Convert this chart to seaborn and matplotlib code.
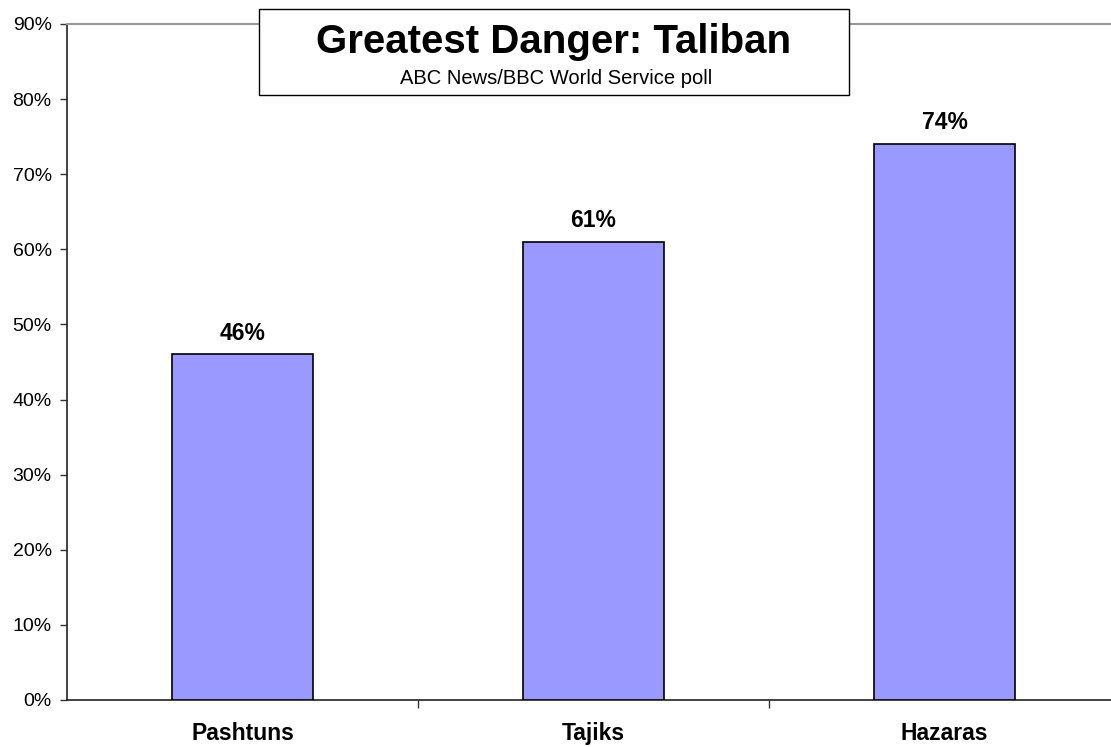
import matplotlib.pyplot as plt
import seaborn as sns
from matplotlib.patches import Rectangle
from matplotlib.ticker import FixedLocator, PercentFormatter

groups = ['Pashtuns', 'Tajiks', 'Hazaras']
danger_pct = [46, 61, 74]
y_ticks = [0, 10, 20, 30, 40, 50, 60, 70, 80, 90]

sns.set_style('white')
plt.rcParams['font.family'] = ['Liberation Sans', 'DejaVu Sans']
plt.rcParams['text.color'] = 'black'
plt.rcParams['xtick.color'] = 'black'
plt.rcParams['ytick.color'] = 'black'

fig = plt.figure(figsize=(11.11, 7.47), dpi=100)
ax = fig.add_axes([67 / 1111, 1 - 700 / 747, 1 - 67 / 1111, (700 - 24) / 747])

sns.barplot(x=groups, y=danger_pct, color='#9999FF', edgecolor='black',
            linewidth=1.2, width=0.4, saturation=1, ax=ax, zorder=3)

for i, v in enumerate(danger_pct):
    ax.annotate(f'{v}%', (i, v), xytext=(0, 7), textcoords='offset points',
                ha='center', va='bottom', fontsize=16.5, fontweight='bold')

ax.set_ylim(0, 90)
ax.set_xlim(-0.5, -0.5 + 1044 / 351)
ax.set_yticks(y_ticks)
ax.yaxis.set_major_formatter(PercentFormatter(decimals=0))
ax.tick_params(axis='y', length=5, width=1, color='#333333', labelsize=14, pad=6, left=True)
ax.tick_params(axis='x', which='major', length=0, labelsize=16.5, pad=16)
ax.xaxis.set_minor_locator(FixedLocator([0.5, 1.5]))
ax.tick_params(axis='x', which='minor', length=6, width=1, color='#333333', bottom=True)
for lab in ax.get_xticklabels():
    lab.set_fontweight('bold')
ax.set_xlabel('')
ax.set_ylabel('')

for side in ['left', 'bottom']:
    ax.spines[side].set_color('#222222')
    ax.spines[side].set_linewidth(1.2)
ax.spines['top'].set_color('#999999')
ax.spines['top'].set_linewidth(1.5)
ax.spines['right'].set_visible(False)

# title box
fig.patches.append(Rectangle((259 / 1111, 1 - 95 / 747), 590 / 1111, 86 / 747,
                             transform=fig.transFigure, facecolor='white',
                             edgecolor='black', linewidth=1, zorder=5))
fig.text(554 / 1111, 1 - 42 / 747, 'Greatest Danger: Taliban', ha='center', va='center',
         fontsize=29, fontweight='bold', zorder=6)
fig.text(556 / 1111, 1 - 79 / 747, 'ABC News/BBC World Service poll', ha='center', va='center',
         fontsize=14.5, zorder=6)

fig.savefig('out.png', dpi=100)
